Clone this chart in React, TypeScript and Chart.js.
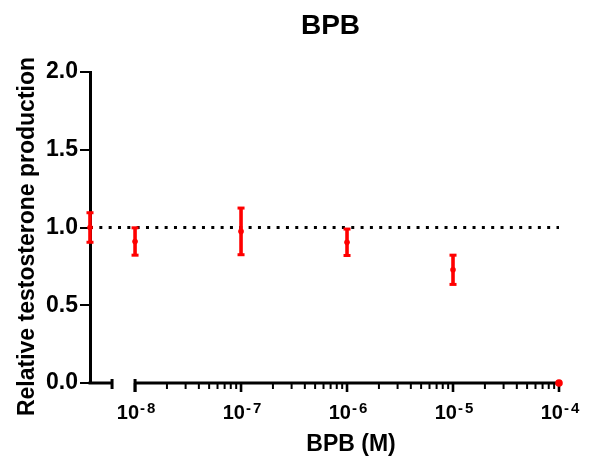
import React, { useEffect, useRef } from 'react';
import { Chart, registerables } from 'chart.js';

Chart.register(...registerables);

// ---- Data ----
const chartTitle = 'BPB';
const yAxisTitle = 'Relative testosterone production';
const xAxisTitle = 'BPB (M)';
const controlPosition = -8.425; // log10 axis slot used for the control group (left of the axis break)
const breakEndPosition = -8.217; // end of the control segment of the broken x axis
const xMax = -4;
const groupPositions = [controlPosition, -8, -7, -6, -5, -4];
const groupMeans = [1.0, 0.91, 0.975, 0.905, 0.728, 0.0];
const groupErrors = [0.095, 0.088, 0.15, 0.085, 0.094, 0.0];
const yTickValues = [0, 0.5, 1.0, 1.5, 2.0];
const xMajorExponents = [-8, -7, -6, -5, -4];
const xMinorMultipliers = [2, 3, 4, 5, 6, 7, 8, 9];
const referenceLevel = 1.0;
const yMin = 0;
const yMax = 2;

const FONT = '"Liberation Sans", Arial, Helvetica, sans-serif';
const RED = '#ff0000';

const customPlugin = {
  id: 'customAxisAndErrors',
  beforeDatasetsDraw(chart: any) {
    const { ctx, scales } = chart;
    const x = scales.x;
    const y = scales.y;
    const y0 = y.getPixelForValue(0);
    ctx.save();
    ctx.strokeStyle = '#000';
    ctx.lineCap = 'butt';
    const xc = x.getPixelForValue(controlPosition);
    const xb = x.getPixelForValue(breakEndPosition);
    ctx.lineWidth = 3;
    ctx.beginPath();
    ctx.moveTo(xc - 1.5, y0);
    ctx.lineTo(xb, y0);
    ctx.stroke();
    ctx.beginPath();
    ctx.moveTo(xb, y0 - 4);
    ctx.lineTo(xb, y0 + 6);
    ctx.stroke();
    const xs = x.getPixelForValue(xMajorExponents[0]);
    const xe = x.getPixelForValue(xMajorExponents[xMajorExponents.length - 1]);
    ctx.beginPath();
    ctx.moveTo(xs, y0);
    ctx.lineTo(xe, y0);
    ctx.stroke();
    ctx.beginPath();
    ctx.moveTo(xs, y0 - 4);
    ctx.lineTo(xs, y0 + 9);
    ctx.stroke();
    ctx.lineWidth = 2.6;
    for (const e of xMajorExponents) {
      const px = x.getPixelForValue(e);
      ctx.beginPath();
      ctx.moveTo(px, y0);
      ctx.lineTo(px, y0 + 9);
      ctx.stroke();
    }
    ctx.lineWidth = 2;
    for (let i = 0; i < xMajorExponents.length - 1; i++) {
      for (const m of xMinorMultipliers) {
        const px = x.getPixelForValue(xMajorExponents[i] + Math.log10(m));
        ctx.beginPath();
        ctx.moveTo(px, y0);
        ctx.lineTo(px, y0 + 6);
        ctx.stroke();
      }
    }
    ctx.restore();
  },
  afterDatasetsDraw(chart: any) {
    const { ctx, scales } = chart;
    const x = scales.x;
    const y = scales.y;
    ctx.save();
    ctx.strokeStyle = RED;
    ctx.fillStyle = RED;
    for (let i = 0; i < groupPositions.length; i++) {
      if (groupErrors[i] <= 0) continue;
      const px = x.getPixelForValue(groupPositions[i]);
      const top = y.getPixelForValue(groupMeans[i] + groupErrors[i]);
      const bot = y.getPixelForValue(groupMeans[i] - groupErrors[i]);
      ctx.lineWidth = 3.6;
      ctx.beginPath();
      ctx.moveTo(px, top);
      ctx.lineTo(px, bot);
      ctx.stroke();
      ctx.fillRect(px - 3.5, top - 1.5, 7, 3);
      ctx.fillRect(px - 3.5, bot - 1.5, 7, 3);
    }
    ctx.restore();
  },
  afterDraw(chart: any) {
    const { ctx, scales, chartArea } = chart;
    const x = scales.x;
    const y0 = scales.y.getPixelForValue(0);
    ctx.save();
    ctx.fillStyle = '#000';
    for (const e of xMajorExponents) {
      const px = x.getPixelForValue(e);
      ctx.font = `bold 20px ${FONT}`;
      const bw = ctx.measureText('10').width;
      ctx.font = `bold 15px ${FONT}`;
      const hw = ctx.measureText('-').width;
      const dw = ctx.measureText(String(Math.abs(e))).width;
      const gap1 = 1;
      const gap2 = 2;
      const total = bw + gap1 + hw + gap2 + dw;
      let sx = px - total / 2 + 1;
      ctx.textAlign = 'left';
      ctx.textBaseline = 'alphabetic';
      ctx.font = `bold 20px ${FONT}`;
      ctx.fillText('10', sx, y0 + 35.5);
      sx += bw + gap1;
      ctx.font = `bold 15px ${FONT}`;
      ctx.fillText('-', sx, y0 + 29.5);
      sx += hw + gap2;
      ctx.fillText(String(Math.abs(e)), sx, y0 + 29.5);
    }
    const xs = x.getPixelForValue(xMajorExponents[0]);
    const xe = x.getPixelForValue(xMajorExponents[xMajorExponents.length - 1]);
    ctx.font = `bold 23px ${FONT}`;
    ctx.textAlign = 'center';
    ctx.fillText(xAxisTitle, (xs + xe) / 2 + 4, y0 + 68);
    ctx.font = `bold 28px ${FONT}`;
    ctx.fillText(chartTitle, (chartArea.left + chartArea.right) / 2 + 6, 34);
    ctx.save();
    ctx.translate(33.5, (chartArea.top + chartArea.bottom) / 2 + 9);
    ctx.rotate(-Math.PI / 2);
    ctx.font = `bold 23px ${FONT}`;
    ctx.textAlign = 'center';
    ctx.fillText(yAxisTitle, 0, 0);
    ctx.restore();
    ctx.restore();
  },
};

export default function App() {
  const canvasRef = useRef<HTMLCanvasElement | null>(null);

  useEffect(() => {
    document.body.style.margin = '0';
    document.body.style.overflow = 'hidden';
    const canvas = canvasRef.current;
    if (!canvas) return;
    const chart = new Chart(canvas, {
      type: 'scatter',
      data: {
        datasets: [
          {
            type: 'line',
            label: 'reference',
            data: [
              { x: controlPosition, y: referenceLevel },
              { x: xMax, y: referenceLevel },
            ],
            borderColor: '#000',
            borderWidth: 3,
            borderDash: [3, 6.33],
            pointRadius: 0,
            fill: false,
            order: 2,
          } as any,
          {
            type: 'scatter',
            label: 'BPB',
            data: groupPositions.map((p, i) => ({ x: p, y: groupMeans[i] })),
            backgroundColor: RED,
            borderColor: RED,
            borderWidth: 0,
            pointRadius: groupMeans.map((_, i) => (groupErrors[i] > 0 ? 2.8 : 3.8)),
            clip: false,
            order: 1,
          } as any,
        ],
      },
      options: {
        animation: false,
        responsive: false,
        devicePixelRatio: 1,
        layout: { padding: { top: 72, right: 33, bottom: 78, left: 0 } },
        plugins: {
          legend: { display: false },
          tooltip: { enabled: false },
          title: { display: false },
        },
        scales: {
          x: {
            type: 'linear',
            min: controlPosition,
            max: xMax,
            display: false,
          },
          y: {
            type: 'linear',
            min: yMin,
            max: yMax,
            afterBuildTicks: (s: any) => {
              s.ticks = yTickValues.map((v) => ({ value: v }));
            },
            afterFit: (s: any) => {
              s.width = 90;
            },
            ticks: {
              color: '#000',
              padding: 2,
              font: { family: FONT, size: 23, weight: 'bold' },
              callback: (v: any) => Number(v).toFixed(1),
            },
            grid: {
              drawOnChartArea: false,
              drawTicks: true,
              tickLength: 10,
              color: '#000',
              lineWidth: 2,
            },
            border: { display: true, color: '#000', width: 3 },
          },
        },
      } as any,
      plugins: [customPlugin],
    });
    return () => chart.destroy();
  }, []);

  return (
    <div style={{ width: 592, height: 461 }}>
      <canvas ref={canvasRef} width={592} height={461} />
    </div>
  );
}
